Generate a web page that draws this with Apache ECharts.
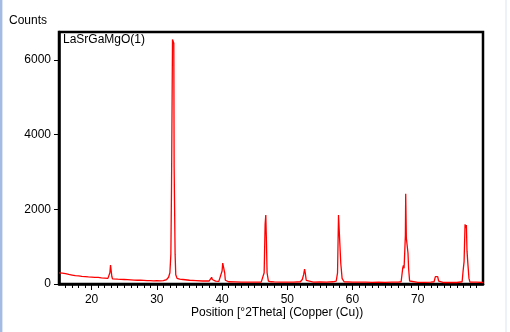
<!DOCTYPE html>
<html>
<head>
<meta charset="utf-8">
<style>
  html, body { margin: 0; padding: 0; background: #fff; }
  #main { width: 510px; height: 332px; }
</style>
<script src="https://cdn.jsdelivr.net/npm/echarts@6/dist/echarts.min.js"></script>
</head>
<body>
<div id="main"></div>
<script>
// Diffraction pattern: 2Theta position and counts
var positions = [
  15, 15.3, 15.5, 15.8, 16, 16.3, 16.5, 17, 17.5, 18, 18.5, 19, 19.5, 20, 20.5, 21, 21.5, 22, 22.5,
  22.7, 22.8, 22.9, 23.0, 23.1, 23.2, 23.5, 24, 24.5, 25, 25.5, 26, 26.5, 27, 27.5,
  28, 28.5, 29, 29.5, 30, 30.5, 31, 31.5, 31.8, 32.0, 32.15, 32.25, 32.4, 32.6, 32.65,
  32.8, 32.9, 33.1, 33.5, 34, 35, 36, 37, 38, 38.2, 38.4, 38.5, 38.7, 39, 39.5, 39.8,
  40.0, 40.1, 40.2, 40.3, 40.4, 40.5, 41, 42, 43, 44, 45, 46, 46.3, 46.45, 46.6, 46.7,
  46.8, 46.9, 47.1, 47.5, 48, 49, 50, 51, 52, 52.3, 52.5, 52.65, 52.75, 52.9, 53.2,
  54, 55, 56, 57, 57.5, 57.7, 57.85, 57.95, 58.05, 58.2, 58.4, 58.7, 59, 60, 61, 62,
  63, 64, 65, 66, 67, 67.45, 67.7, 67.8, 67.9, 68.0, 68.1, 68.15, 68.25, 68.35, 68.5,
  68.6, 68.75, 69, 70, 71, 72, 72.5, 72.7, 72.85, 72.95, 73.05, 73.2, 73.5, 74, 75,
  76, 76.8, 76.95, 77.1, 77.25, 77.35, 77.45, 77.55, 77.7, 77.85, 78.0, 79, 80
];
var counts = [
  300, 270, 290, 250, 280, 240, 255, 240, 225, 215, 205, 200, 190, 185, 180, 175, 165, 160, 150,
  160, 300, 510, 480, 200, 140, 140, 130, 125, 120, 115, 110, 105, 100, 100,
  95, 90, 90, 85, 90, 85, 90, 120, 180, 300, 800, 2600, 6550, 6450, 3150,
  800, 250, 150, 130, 120, 100, 90, 80, 80, 100, 180, 120, 80, 75, 70, 100,
  350, 560, 520, 560, 300, 100, 60, 55, 50, 50, 50, 50, 80, 300, 1600, 1850,
  1150, 300, 80, 60, 55, 50, 50, 50, 60, 120, 250, 400, 300, 100, 55,
  50, 55, 50, 60, 80, 300, 1850, 1820, 1100, 550, 150, 60, 55, 50, 50, 50,
  45, 50, 45, 50, 50, 60, 430, 500, 420, 850, 1300, 2420, 1230, 1230, 830,
  400, 80, 50, 45, 45, 50, 60, 200, 220, 150, 200, 80, 40, 40, 40,
  40, 60, 350, 600, 1600, 1500, 1580, 880, 500, 150, 50, 50, 40
];
var xLabels = [20, 30, 40, 50, 60, 70];
var xMinorTicks = [16, 17, 18, 19, 21, 22, 23, 24, 25, 26, 27, 28, 29, 31, 32, 33, 34, 35, 36, 37, 38, 39,
  41, 42, 43, 44, 45, 46, 47, 48, 49, 51, 52, 53, 54, 55, 56, 57, 58, 59, 61, 62, 63, 64, 65, 66, 67, 68, 69,
  71, 72, 73, 74, 75, 76, 77, 78, 79];
var yLabels = [0, 2000, 4000, 6000];

var chartDom = document.getElementById('main');
var myChart = echarts.init(chartDom);

var font = 'Liberation Sans, Arial, sans-serif';

var option = {
  animation: false,
  backgroundColor: '#fff',
  grid: {
    left: 59,
    right: 27,
    top: 32,
    bottom: 48,
    show: true,
    borderColor: '#000',
    borderWidth: 2.5
  },
  graphic: [
    { type: 'rect', shape: { x: 0, y: 0, width: 2, height: 332 }, style: { fill: '#a4bbe4' } },
    { type: 'rect', shape: { x: 2, y: 0, width: 1, height: 332 }, style: { fill: '#dbe4f3' } },
    { type: 'rect', shape: { x: 505, y: 0, width: 2, height: 332 }, style: { fill: '#edf1f8' } },
    { type: 'text', left: 9, top: 15, style: { text: 'Counts', font: '12px ' + font, fill: '#000' } },
    { type: 'text', left: 63, top: 34, style: { text: 'LaSrGaMgO(1)', font: '12px ' + font, fill: '#000' } },
    { type: 'text', left: 191, top: 307, style: { text: 'Position [°2Theta] (Copper (Cu))', font: '12px ' + font, fill: '#000' } }
  ],
  xAxis: [
    {
      type: 'value',
      min: 15,
      max: 80,
      splitLine: { show: false },
      axisLine: { show: true, lineStyle: { color: '#000', width: 2.5 } },
      axisTick: { show: true, length: 4, customValues: xMinorTicks, lineStyle: { color: '#000' } },
      axisLabel: { customValues: xLabels, margin: 10, fontSize: 12, fontFamily: font, color: '#000' }
    },
    {
      type: 'value',
      min: 15,
      max: 80,
      position: 'bottom',
      splitLine: { show: false },
      axisLine: { show: false },
      axisTick: { show: true, length: 6, customValues: xLabels, lineStyle: { color: '#000' } },
      axisLabel: { show: false }
    }
  ],
  yAxis: {
    type: 'value',
    min: 0,
    max: 6750,
    splitLine: { show: false },
    axisLine: { show: true, lineStyle: { color: '#000', width: 2.5 } },
    axisTick: { show: true, length: 5, customValues: yLabels, lineStyle: { color: '#000' } },
    axisLabel: {
      customValues: yLabels,
      margin: 8,
      fontSize: 12,
      fontFamily: font,
      color: '#000',
      formatter: function (v) { return String(v); }
    }
  },
  series: [
    {
      type: 'line',
      data: positions.map(function (p, i) { return [p, counts[i]]; }),
      showSymbol: false,
      symbol: 'none',
      lineStyle: { color: '#ff0000', width: 1.3 },
      clip: true
    }
  ]
};

myChart.setOption(option);
</script>
</body>
</html>
